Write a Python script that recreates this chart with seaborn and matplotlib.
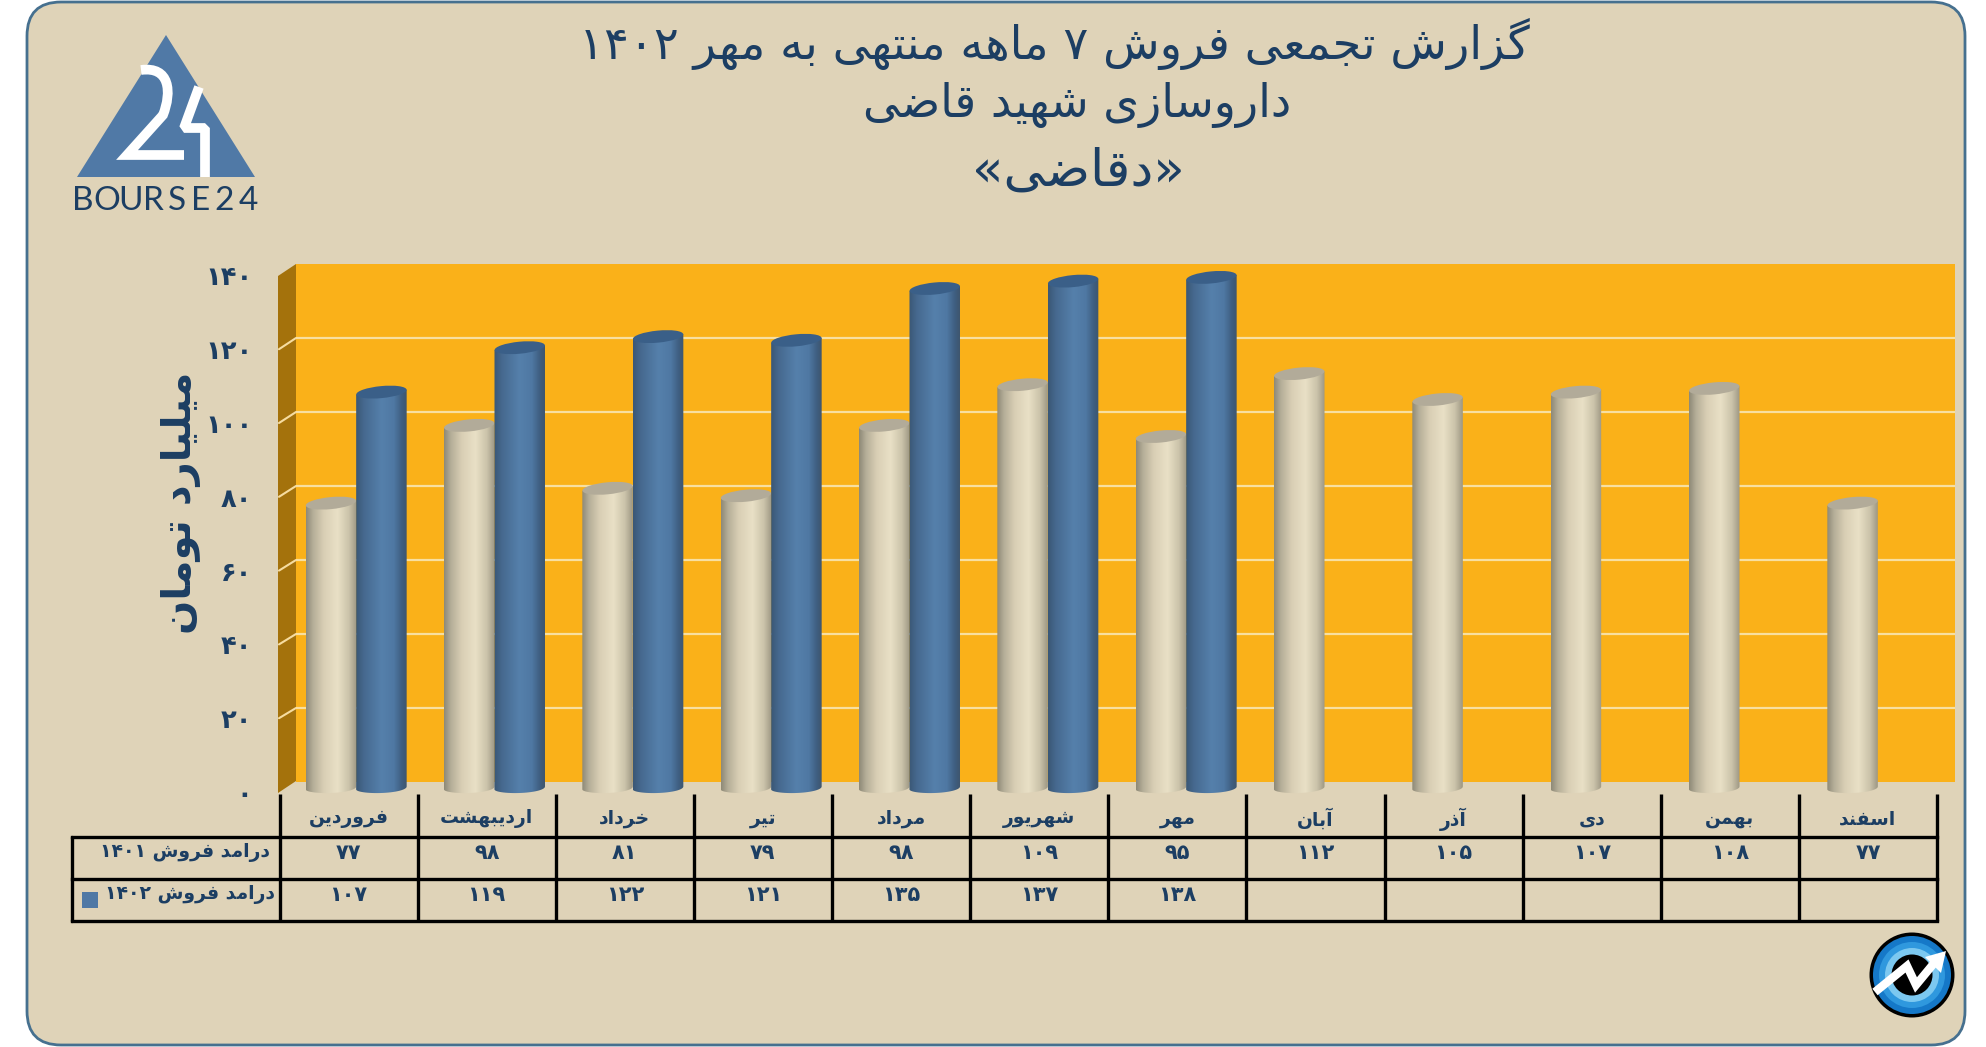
import numpy as np
import pandas as pd
import seaborn as sns
import matplotlib.pyplot as plt
from matplotlib.colors import LinearSegmentedColormap
from matplotlib.patches import Ellipse, FancyBboxPatch, PathPatch, Polygon, Circle
from matplotlib.path import Path
from matplotlib.transforms import Affine2D, IdentityTransform

W, H = 1986, 1047

months = ['فروردین', 'اردیبهشت', 'خرداد', 'تیر', 'مرداد', 'شهریور', 'مهر',
          'آبان', 'آذر', 'دی', 'بهمن', 'اسفند']
sales_1401 = [77, 98, 81, 79, 98, 109, 95, 112, 105, 107, 108, 77]
sales_1402 = [107, 119, 122, 121, 135, 137, 138, None, None, None, None, None]
y_ticks = [0, 20, 40, 60, 80, 100, 120, 140]
row_labels = ['درامد فروش ۱۴۰۱', 'درامد فروش ۱۴۰۲']
title_lines = ['گزارش تجمعی فروش ۷ ماهه منتهی به مهر ۱۴۰۲', 'داروسازی شهید قاضی', '«دقاضی»']
y_title = 'میلیارد تومان'

BG = '#DFD3B8'
NAVY = '#1C3E63'
BLUE = '#4F78A5'

# matplotlib has no arabic shaping, so pick the presentation forms by hand
FORMS = {
    'ا': (0xFE8D, 0xFE8E), 'آ': (0xFE81, 0xFE82), 'د': (0xFEA9, 0xFEAA), 'ذ': (0xFEAB, 0xFEAC),
    'ر': (0xFEAD, 0xFEAE), 'ز': (0xFEAF, 0xFEB0), 'و': (0xFEED, 0xFEEE),
    'ب': (0xFE8F, 0xFE90, 0xFE91, 0xFE92), 'ت': (0xFE95, 0xFE96, 0xFE97, 0xFE98),
    'ج': (0xFE9D, 0xFE9E, 0xFE9F, 0xFEA0), 'خ': (0xFEA5, 0xFEA6, 0xFEA7, 0xFEA8),
    'س': (0xFEB1, 0xFEB2, 0xFEB3, 0xFEB4), 'ش': (0xFEB5, 0xFEB6, 0xFEB7, 0xFEB8),
    'ض': (0xFEBD, 0xFEBE, 0xFEBF, 0xFEC0), 'ع': (0xFEC9, 0xFECA, 0xFECB, 0xFECC),
    'ف': (0xFED1, 0xFED2, 0xFED3, 0xFED4), 'ق': (0xFED5, 0xFED6, 0xFED7, 0xFED8),
    'ل': (0xFEDD, 0xFEDE, 0xFEDF, 0xFEE0), 'م': (0xFEE1, 0xFEE2, 0xFEE3, 0xFEE4),
    'ن': (0xFEE5, 0xFEE6, 0xFEE7, 0xFEE8), 'ه': (0xFEE9, 0xFEEA, 0xFEEB, 0xFEEC),
    'ی': (0xFBFC, 0xFBFD, 0xFBFE, 0xFBFF), 'گ': (0xFB92, 0xFB93, 0xFB94, 0xFB95),
}
DIGITS = '۰۱۲۳۴۵۶۷۸۹'
fa_num = lambda n: ''.join(DIGITS[int(c)] for c in str(n))


def fa(text):
    out = []
    for i, ch in enumerate(text):
        if ch not in FORMS:
            out.append({'«': '»', '»': '«'}.get(ch, ch))
            continue
        prev = text[i - 1] if i > 0 else ''
        nxt = text[i + 1] if i + 1 < len(text) else ''
        f = FORMS[ch]
        join_prev = prev in FORMS and len(FORMS[prev]) == 4
        join_next = len(f) == 4 and nxt in FORMS
        idx = {(0, 0): 0, (1, 0): 1, (0, 1): 2, (1, 1): 3}[(int(join_prev), int(join_next))]
        out.append(chr(f[idx]))
    out = out[::-1]
    # digit runs keep left to right order
    res, run = [], []
    for ch in out:
        if ch in DIGITS:
            run.append(ch)
        else:
            res += run[::-1] + [ch]
            run = []
    res += run[::-1]
    return ''.join(res)


sns.set_theme(style='white')
plt.rcParams['font.family'] = ['DejaVu Sans']

fig = plt.figure(figsize=(W / 100, H / 100), dpi=100, facecolor='white')


def px_axes(x0, y_top, x1, y_bottom, **kw):
    return fig.add_axes([x0 / W, 1 - y_bottom / H, (x1 - x0) / W, (y_bottom - y_top) / H], **kw)


# page layer, in pixels
page = px_axes(0, 0, W, H)
page.set_xlim(0, W)
page.set_ylim(H, 0)
page.axis('off')
page.add_patch(FancyBboxPatch((27, 2), 1938, 1043, boxstyle='round,pad=0,rounding_size=34',
                              fc=BG, ec='#46708F', lw=2))

for line, x, y, size in zip(title_lines, [1054, 1077, 1078], [44, 105, 172], [33.4, 33, 37]):
    page.text(x, y, fa(line), ha='center', va='center', fontsize=size, color=NAVY)
page.text(181, 503, fa(y_title), rotation=90, ha='center', va='center', fontsize=29,
          color=NAVY, fontweight='bold')

# logo
page.add_patch(Polygon([(166, 35), (77, 177), (255, 177)], fc='#5079A6', ec='none'))
two = Path([(141, 70), (170, 66), (172, 92), (163, 115), (127, 155), (184, 155)],
           [Path.MOVETO, Path.CURVE4, Path.CURVE4, Path.CURVE4, Path.LINETO, Path.LINETO])
page.add_patch(PathPatch(two, fc='none', ec='white', lw=7, capstyle='butt', joinstyle='miter'))
page.plot([199, 184, 205, 205], [87, 128, 128, 177], color='white', lw=7,
          solid_joinstyle='bevel', solid_capstyle='butt')
for i, ch in enumerate('BOURSE24'):
    page.text(83 + i * 23.6, 201, ch, ha='center', va='center', fontsize=24, color=NAVY,
              family='Lato')

# coin logo
cx0, cy0 = 1912, 975
for r, col in [(42.5, 'black'), (39, '#1578C8'), (33, '#2F98DE'), (27, '#7CC8F0'), (20.5, 'black')]:
    page.add_patch(Circle((cx0, cy0), r, fc=col, ec='none'))
page.plot([1875, 1907, 1916, 1935], [992, 966, 985, 962], color='white', lw=6,
          solid_joinstyle='miter', solid_capstyle='butt')
page.add_patch(Polygon([(1946, 951), (1925, 957), (1941, 973)], fc='white', ec='none'))

# side wall
page.add_patch(Polygon([(278, 276), (296, 264), (296, 781), (278, 793)], fc='#A4720C', ec='none'))
for v in y_ticks[1:-1]:
    page.plot([279, 296], [792 - 3.69 * v, 782 - 3.7 * v], color='#F6DCA0', lw=1.5)

# table
col_w = (1937 - 279.5) / 12
col_x = [279.5 + i * col_w for i in range(13)]
for y in [837, 879, 921]:
    page.plot([72, col_x[-1]], [y, y], color='black', lw=2.4, solid_capstyle='projecting')
page.plot([72, 72], [837, 921], color='black', lw=2.4)
for x in col_x:
    page.plot([x, x], [794, 921], color='black', lw=2.4, solid_capstyle='butt')
for i, m in enumerate(months):
    cx = col_x[i] + col_w / 2
    page.text(cx, 819, fa(m), ha='center', va='center', fontsize=13.5, color=NAVY, fontweight='bold')
    page.text(cx, 853, fa_num(sales_1401[i]), ha='center', va='center', fontsize=15,
              color=NAVY, fontweight='bold')
    if sales_1402[i] is not None:
        page.text(cx, 895, fa_num(sales_1402[i]), ha='center', va='center', fontsize=15,
                  color=NAVY, fontweight='bold')
page.text(270, 853, fa(row_labels[0]), ha='right', va='center', fontsize=13.5, color=NAVY, fontweight='bold')
page.text(275, 895, fa(row_labels[1]), ha='right', va='center', fontsize=13.5, color=NAVY, fontweight='bold')
page.add_patch(plt.Rectangle((82, 892), 16, 16, fc=BLUE, ec='none'))

# back wall with the gridlines
wall = px_axes(296, 264, 1955, 782, facecolor='#FAB119')
wall.set_ylim(0, 140)
wall.set_xticks([])
wall.set_yticks(y_ticks[1:-1])
wall.set_yticklabels([])
wall.tick_params(length=0)
wall.grid(axis='y', color='#F8DFA0', lw=1.6)
sns.despine(ax=wall, left=True, bottom=True)

# front plane only carries the y tick labels
front = px_axes(280, 275.4, 1936, 792, facecolor='none')
front.set_ylim(0, 140)
front.set_xticks([])
front.set_yticks(y_ticks)
front.set_yticklabels([fa_num(v) for v in y_ticks], fontsize=18.5, color=NAVY, fontweight='bold')
front.tick_params(axis='y', length=0, pad=20)
sns.despine(ax=front, left=True, bottom=True)

# bars
df = pd.DataFrame({
    'month': months * 2,
    'year': ['1401'] * 12 + ['1402'] * 12,
    'value': sales_1401 + sales_1402,
})
Y0, SCALE = 788, 3.7
ylim = (-4, 145)
ax = px_axes(287, Y0 - ylim[1] * SCALE, 1947, Y0 - ylim[0] * SCALE, facecolor='none')
sns.barplot(data=df.dropna(), x='month', y='value', hue='year', order=months, hue_order=['1401', '1402'],
            palette=['#E4DBC0', BLUE], saturation=1, width=0.73, legend=False, ax=ax)
ax.set_xlim(-0.5, 11.5)
ax.set_ylim(*ylim)
ax.axis('off')

cream_map = LinearSegmentedColormap.from_list('cream', [(0, '#8f8a78'), (.13, '#b5ae98'), (.35, '#d9cfb5'),
                                                        (.62, '#e9e0c6'), (.85, '#cbc3aa'), (1, '#9e9884')])
blue_map = LinearSegmentedColormap.from_list('blue', [(0, '#3b5876'), (.15, '#46698f'), (.5, '#5580ab'),
                                                      (.75, '#4f78a3'), (.9, '#3f5f82'), (1, '#3e566f')])
TILT = 5.5
to_px = ax.transData.transform
bars = [p for p in ax.patches if np.isfinite(p.get_height()) and p.get_height() > 0]
for p in bars:
    is_blue = p.get_facecolor()[2] > p.get_facecolor()[0]
    x, w, h = p.get_x(), p.get_width(), p.get_height()
    p.set_visible(False)
    left, top = to_px((x, h))
    right, base = to_px((x + w, 0))
    cx, pw = (left + right) / 2, right - left
    dy = pw / 2 * np.tan(np.radians(TILT))
    t = np.linspace(np.pi, 2 * np.pi, 30)
    arc = np.column_stack([cx + pw / 2 * np.cos(t), base + 5 * np.sin(t) + (t - 1.5 * np.pi) / np.pi * 2 * dy * 0.6])
    outline = np.vstack([[(left, top - dy)], arc, [(right, top + dy)], [(left, top - dy)]])
    im = ax.imshow(np.linspace(0, 1, 64).reshape(1, -1), extent=(x, x + w, -4, h + 4), aspect='auto',
                   cmap=blue_map if is_blue else cream_map, interpolation='bilinear', zorder=3)
    im.set_clip_path(Path(outline), IdentityTransform())
    cap = Ellipse((0, 0), pw, 12, angle=TILT, fc='#3A5F88' if is_blue else '#B2AB99', ec='none',
                  transform=Affine2D().translate(cx, top), zorder=3)
    ax.add_patch(cap)
ax.set_xlim(-0.5, 11.5)
ax.set_ylim(*ylim)

fig.savefig('out.png', dpi=100, facecolor='white')
